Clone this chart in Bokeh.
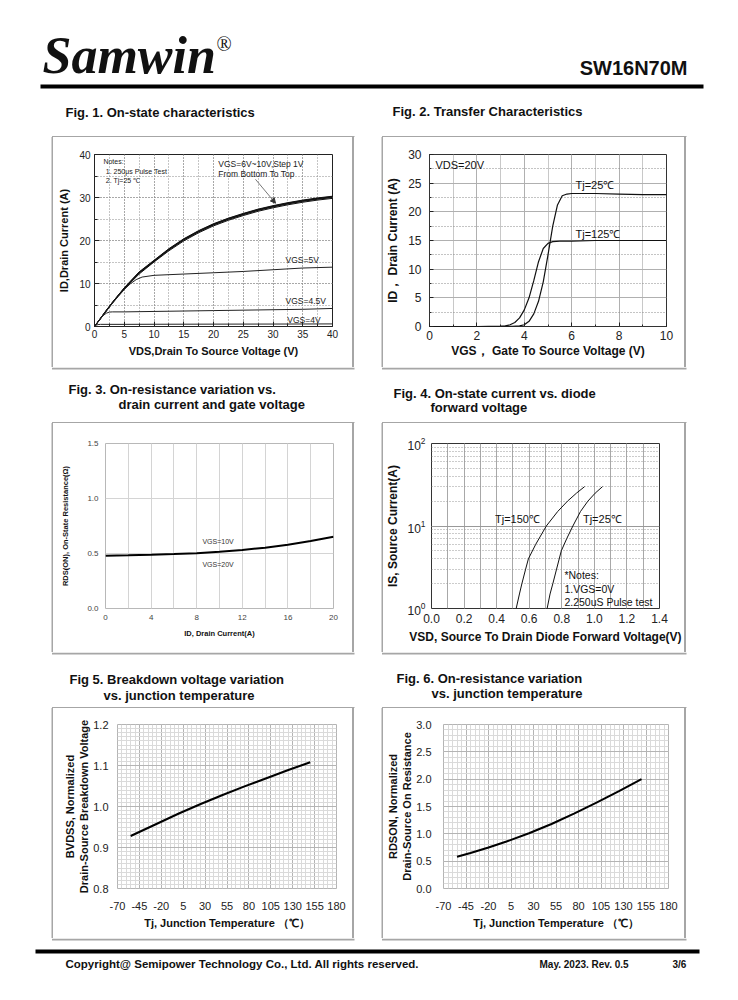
from bokeh.plotting import figure
from bokeh.layouts import column, row
from bokeh.models import (Range1d, Label, Arrow, NormalHead, FixedTicker, Spacer,
                          SingleIntervalTicker, PrintfTickFormatter, LinearScale)
from bokeh.embed import file_html
from bokeh.resources import INLINE

SANS = "Liberation Sans"
SERIF = "Liberation Serif"

# ---------------- data ----------------
# Fig 1: output characteristics
vds = [0, 1, 2, 3, 4, 5, 6, 7.5, 10, 12.5, 15, 17.5, 20, 22.5, 25, 27.5, 30, 32.5, 35, 37.5, 40]
id_6v = [0, 1.8, 3.6, 5.4, 7.1, 8.7, 10.1, 12.2, 15.0, 17.6, 19.9, 21.8, 23.4, 24.7, 25.8, 26.8, 27.6, 28.3, 28.9, 29.4, 29.8]
id_7v = [0, 1.8, 3.7, 5.5, 7.2, 8.8, 10.2, 12.4, 15.1, 17.8, 20.1, 22.0, 23.6, 24.9, 26.0, 27.0, 27.8, 28.5, 29.1, 29.6, 30.0]
id_8v = [0, 1.9, 3.7, 5.5, 7.2, 8.9, 10.3, 12.5, 15.2, 17.9, 20.2, 22.1, 23.7, 25.0, 26.1, 27.1, 27.9, 28.6, 29.2, 29.7, 30.1]
id_9v = [0, 1.9, 3.8, 5.6, 7.3, 8.9, 10.4, 12.6, 15.3, 18.0, 20.3, 22.2, 23.8, 25.1, 26.2, 27.2, 28.0, 28.7, 29.3, 29.8, 30.2]
id_10v = [0, 1.9, 3.8, 5.6, 7.3, 9.0, 10.5, 12.7, 15.4, 18.1, 20.4, 22.3, 23.9, 25.2, 26.3, 27.3, 28.1, 28.8, 29.4, 29.9, 30.3]
vds_5v = [0, 1, 2, 3, 4, 5, 6, 7, 8, 10, 15, 20, 25, 30, 35, 40]
id_5v = [0, 1.8, 3.6, 5.4, 7.0, 8.6, 9.9, 10.9, 11.5, 11.9, 12.2, 12.5, 12.8, 13.2, 13.6, 13.8]
vds_45v = [0, 0.5, 1, 1.5, 2, 2.5, 3, 5, 10, 15, 20, 25, 30, 35, 40]
id_45v = [0, 0.9, 1.8, 2.6, 3.1, 3.35, 3.4, 3.4, 3.5, 3.6, 3.7, 3.8, 3.9, 4.0, 4.2]
vds_4v = [0, 0.3, 0.6, 1, 5, 10, 20, 30, 40]
id_4v = [0, 0.3, 0.45, 0.5, 0.5, 0.52, 0.55, 0.57, 0.6]

# Fig 2: transfer characteristics
vgs_25 = [0, 2, 3, 3.5, 3.8, 4.0, 4.2, 4.4, 4.6, 4.8, 5.0, 5.2, 5.4, 5.6, 5.8, 6.0, 7, 8, 9, 10]
id_25 = [0, 0, 0, 0.02, 0.1, 0.3, 0.9, 2.2, 4.4, 7.8, 12.5, 17.5, 21.2, 22.8, 23.1, 23.2, 23.2, 23.1, 23.0, 23.0]
vgs_125 = [0, 2, 3, 3.2, 3.4, 3.6, 3.8, 4.0, 4.2, 4.4, 4.6, 4.8, 5.0, 5.2, 5.5, 6, 7, 8, 9, 10]
id_125 = [0, 0, 0.05, 0.1, 0.3, 0.7, 1.5, 2.9, 5.0, 8.0, 11.3, 13.6, 14.5, 14.8, 14.9, 14.9, 15.0, 15.0, 15.0, 15.0]

# Fig 3: on-resistance vs drain current
id_r = [0, 2, 4, 6, 8, 10, 12, 14, 16, 18, 20]
rds_r = [0.48, 0.483, 0.488, 0.495, 0.503, 0.515, 0.532, 0.553, 0.58, 0.613, 0.652]

# Fig 4: body diode forward characteristics
is_150 = [1, 1.5, 2, 3, 4, 6, 10, 15, 20, 25, 30]
vsd_150 = [0.52, 0.54, 0.555, 0.578, 0.595, 0.64, 0.705, 0.775, 0.835, 0.89, 0.94]
is_25 = [1, 1.5, 2, 3, 5, 7, 10, 15, 20, 25, 30]
vsd_25 = [0.71, 0.728, 0.745, 0.768, 0.797, 0.83, 0.868, 0.915, 0.96, 1.005, 1.05]
vsd_ticks = [0.0, 0.2, 0.4, 0.6, 0.8, 1.0, 1.2, 1.4]

# Fig 5: normalized breakdown voltage
tj_bv = [-55, -25, 0, 25, 50, 75, 100, 125, 150]
bv_n = [0.928, 0.958, 0.983, 1.006, 1.028, 1.049, 1.069, 1.089, 1.108]

# Fig 6: normalized on-resistance
tj_r = [-55, -40, -20, 0, 25, 50, 75, 100, 125, 150]
rds_n = [0.58, 0.65, 0.75, 0.86, 1.01, 1.18, 1.37, 1.57, 1.78, 2.0]

temp_ticks = [-70, -45, -20, 5, 30, 55, 80, 105, 130, 155, 180]

PAGE_W = 725
BOX_COLOR = "#a6a6a6"
TOP = {"z-index": "100"}


def blank(x0, x1, y0, y1, lift=False):
    f = figure(width=x1 - x0, height=y1 - y0, x_range=Range1d(x0, x1), y_range=Range1d(y1, y0),
               x_axis_location=None, y_axis_location=None, min_border=0,
               toolbar_location=None, output_backend="svg",
               styles=TOP if lift else {})
    f.grid.visible = False
    f.outline_line_color = None
    f.background_fill_color = "white"
    f.border_fill_color = "white"
    return f


def bar(f, x0, x1, y0, y1, color="black"):
    f.quad(left=[x0], right=[x1], top=[y0], bottom=[y1], fill_color=color,
           fill_alpha=1, line_color=None)


def cell(x0, y0, w, h, frame, xr, yr, y_log=False):
    fl, ft, fr, fb = frame
    p = figure(width=w, height=h, x_range=xr, y_range=yr,
               y_axis_type="log" if y_log else "linear",
               min_border_left=fl - x0, min_border_right=x0 + w - fr,
               min_border_top=ft - y0, min_border_bottom=y0 + h - fb,
               toolbar_location=None, output_backend="svg")
    p.extra_x_ranges = {"page": Range1d(fl, fr)}
    p.extra_y_ranges = {"page": Range1d(fb, ft)}
    p.extra_x_scales = {"page": LinearScale()}
    p.extra_y_scales = {"page": LinearScale()}
    p.background_fill_color = "white"
    p.border_fill_color = None
    return p


def txt(p, x, y, s, size, bold=False, align="left", color="#111", font=SANS, style=None):
    p.add_layout(Label(x=x, y=y, text=s, text_font=font, text_font_size=f"{size}px",
                       text_font_style=style or ("bold" if bold else "normal"),
                       text_align=align, text_baseline="middle", text_color=color))


def style(p, tick_px, label_px, xs=(5, 5), ys=(5, 5), ticks_in=0, minor_in=0,
          tick_color="#222"):
    for ax, (ts, ls) in [(p.xaxis[0], xs), (p.yaxis[0], ys)]:
        ax.axis_line_color = None
        ax.major_tick_in = ticks_in
        ax.major_tick_out = 0
        ax.minor_tick_in = minor_in
        ax.minor_tick_out = 0
        ax.major_tick_line_color = "#222" if ticks_in else None
        ax.minor_tick_line_color = "#222" if minor_in else None
        ax.major_label_text_font = SANS
        ax.major_label_text_font_size = f"{tick_px}px"
        ax.major_label_text_color = tick_color
        ax.major_label_standoff = ts
        ax.axis_label_text_font = SANS
        ax.axis_label_text_font_style = "bold"
        ax.axis_label_text_font_size = f"{label_px}px"
        ax.axis_label_text_color = "#111"
        ax.axis_label_standoff = ls


# chart boxes (page px): left column x 53..352, right column x 383..684
LX, LW, RX, RW = 53, 299, 383, 301
L0, L1, R0, R1 = LX - 1.5, LX + LW + 2, RX - 1.5, RX + RW + 2


def hbar(f, y0, t=1.5):
    bar(f, L0, L1, y0, y0 + t, color=BOX_COLOR)
    bar(f, R0, R1, y0, y0 + t, color=BOX_COLOR)


# ---------------- header band (0..137) ----------------
hdr = blank(0, PAGE_W, 0, 137)
txt(hdr, 42, 55, "Samwin", 52, font=SERIF, style="bold italic")
txt(hdr, 216, 43, "®", 20, font=SERIF)
txt(hdr, 687, 67, "SW16N70M", 20, bold=True, align="right")
bar(hdr, 40, 703, 84, 88)
txt(hdr, 65, 112, "Fig. 1. On-state characteristics", 13, bold=True)
txt(hdr, 392, 111, "Fig. 2. Transfer Characteristics", 13, bold=True)
hbar(hdr, 135.5)

# ---------------- Fig 1 ----------------
p1 = cell(LX, 137, LW, 230, (94, 153, 332, 326), Range1d(0, 40), Range1d(0, 40))
p1.xaxis.ticker = SingleIntervalTicker(interval=5, num_minor_ticks=2)
p1.yaxis.ticker = SingleIntervalTicker(interval=10, num_minor_ticks=2)
for g in (p1.xgrid, p1.ygrid):
    g.grid_line_color = "#8a8a8a"
    g.grid_line_dash = "1 2"
    g.minor_grid_line_color = "#8a8a8a"
    g.minor_grid_line_dash = "1 2"
p1.outline_line_color = "#222"
style(p1, 10, 11, xs=(3, 4), ys=(4, 6), ticks_in=5, minor_in=3)
p1.xaxis.axis_label = "VDS,Drain To Source Voltage (V)"
p1.yaxis.axis_label = "ID,Drain Current (A)"
for ys_ in (id_6v, id_7v, id_8v, id_9v, id_10v):
    p1.line(vds, ys_, line_color="#111", line_width=1)
p1.line(vds_5v, id_5v, line_color="#222", line_width=1)
p1.line(vds_45v, id_45v, line_color="#222", line_width=1)
p1.line(vds_4v, id_4v, line_color="#222", line_width=1)
txt(p1, 20.8, 37.9, "VGS=6V~10V,Step 1V", 8.5, color="#222")
txt(p1, 20.8, 35.4, "From Bottom To Top", 8.5, color="#222")
txt(p1, 1.5, 38.4, "Notes:", 7, color="#222")
txt(p1, 1.9, 36.1, "1. 250μs  Pulse Test", 7, color="#222")
txt(p1, 1.9, 33.9, "2. Tj=25 ℃", 7, color="#222")
txt(p1, 32.1, 15.5, "VGS=5V", 8.5, color="#222")
txt(p1, 32.1, 6.0, "VGS=4.5V", 8.5, color="#222")
txt(p1, 32.4, 1.6, "VGS=4V", 8.5, color="#222")
p1.add_layout(Arrow(end=NormalHead(size=5, fill_color="#333", line_color="#333"),
                    x_start=255, y_start=178, x_end=275, y_end=202,
                    x_range_name="page", y_range_name="page",
                    line_color="#555", line_width=0.8))

# ---------------- Fig 2 ----------------
p2 = cell(RX, 137, RW, 230, (429, 154, 666, 326), Range1d(0, 10), Range1d(0, 30))
p2.xaxis.ticker = SingleIntervalTicker(interval=2, num_minor_ticks=2)
p2.yaxis.ticker = SingleIntervalTicker(interval=5, num_minor_ticks=2)
p2.xgrid.grid_line_color = "#b0b0b0"
p2.xgrid.minor_grid_line_color = "#c8c8c8"
p2.ygrid.grid_line_color = "#b0b0b0"
p2.ygrid.minor_grid_line_color = "#888"
p2.ygrid.minor_grid_line_dash = "1 2"
p2.outline_line_color = "#333"
style(p2, 12, 12, xs=(4, 1), ys=(8, 5), ticks_in=4, minor_in=2)
p2.xaxis.axis_label = "VGS， Gate To Source Voltage (V)"
p2.yaxis.axis_label = "ID， Drain Current (A)"
p2.line(vgs_25, id_25, line_color="#111", line_width=1.2)
p2.line(vgs_125, id_125, line_color="#111", line_width=1.2)
txt(p2, 0.25, 28.1, "VDS=20V", 11)
txt(p2, 6.16, 24.6, "Tj=25℃", 11)
txt(p2, 6.16, 16.2, "Tj=125℃", 11)

# ---------------- band B (367..423) ----------------
bandB = blank(0, PAGE_W, 367, 423, lift=True)
hbar(bandB, 367, 2)
txt(bandB, 68, 389, "Fig. 3. On-resistance variation vs.", 13, bold=True)
txt(bandB, 118, 404, "drain current and gate voltage", 13, bold=True)
txt(bandB, 393, 393, "Fig. 4. On-state current vs. diode", 13, bold=True)
txt(bandB, 430, 407, "forward voltage", 13, bold=True)
hbar(bandB, 421.5)

# ---------------- Fig 3 ----------------
p3 = cell(LX, 423, LW, 229, (105, 443, 333, 611), Range1d(0, 20), Range1d(0, 1.5))
p3.xaxis.ticker = SingleIntervalTicker(interval=4, num_minor_ticks=2)
p3.yaxis.ticker = SingleIntervalTicker(interval=0.5)
p3.yaxis.formatter = PrintfTickFormatter(format="%.1f")
p3.xgrid.grid_line_color = "#d4d4d4"
p3.xgrid.minor_grid_line_color = "#d4d4d4"
p3.ygrid.grid_line_color = "#d4d4d4"
p3.outline_line_color = "#b8b8b8"
style(p3, 8, 7.5, xs=(6, 6), ys=(7, 14), tick_color="#444")
p3.xaxis.axis_label = "ID, Drain Current(A)"
p3.yaxis.axis_label = "RDS(ON), On-State Resistance(Ω)"
p3.line(id_r, rds_r, line_color="#000", line_width=2)
txt(p3, 8.5, 0.607, "VGS=10V", 7, color="#333")
txt(p3, 8.5, 0.402, "VGS=20V", 7, color="#333")

# ---------------- Fig 4 ----------------
p4 = cell(RX, 423, RW, 229, (429, 439, 659, 608), Range1d(0, 1.4), Range1d(1, 100), y_log=True)
p4.xaxis.ticker = FixedTicker(ticks=vsd_ticks,
                              minor_ticks=[round(0.1 * k, 1) for k in range(15)])
p4.xaxis.formatter = PrintfTickFormatter(format="%.1f")
p4.xgrid.grid_line_color = "#a8a8a8"
p4.xgrid.minor_grid_line_color = "#a8a8a8"
p4.ygrid.grid_line_color = "#999"
p4.ygrid.minor_grid_line_color = "#999"
p4.ygrid.minor_grid_line_dash = "1 2"
p4.outline_line_color = "#333"
style(p4, 12, 12, xs=(5, 4), ys=(6, 4))
p4.xaxis.axis_label = "VSD, Source To Drain Diode Forward Voltage(V)"
p4.yaxis.axis_label = "IS, Source Current(A)"
p4.line(vsd_150, is_150, line_color="#111", line_width=1)
p4.line(vsd_25, is_25, line_color="#111", line_width=1)
txt(p4, 0.39, 12.3, "Tj=150℃", 11)
txt(p4, 0.93, 12.3, "Tj=25℃", 11)
txt(p4, 0.816, 2.53, "*Notes:", 10.5)
txt(p4, 0.816, 1.72, "1.VGS=0V", 10.5)
txt(p4, 0.816, 1.21, "2.250uS Pulse test", 10.5)

# ---------------- band C (652..708) ----------------
bandC = blank(0, PAGE_W, 652, 708, lift=True)
hbar(bandC, 652, 2)
txt(bandC, 69, 679, "Fig 5. Breakdown voltage variation", 13, bold=True)
txt(bandC, 103, 695, "vs. junction temperature", 13, bold=True)
txt(bandC, 396, 678, "Fig. 6. On-resistance variation", 13, bold=True)
txt(bandC, 431, 693, "vs. junction temperature", 13, bold=True)
hbar(bandC, 706.5)

# ---------------- Fig 5 ----------------
p5 = cell(LX, 708, LW, 230, (117, 724, 336, 888), Range1d(-70, 180), Range1d(0.8, 1.2))
p5.xaxis.ticker = FixedTicker(ticks=temp_ticks, minor_ticks=list(range(-70, 181, 5)))
p5.xaxis.formatter = PrintfTickFormatter(format="%d")
p5.yaxis.ticker = FixedTicker(ticks=[0.8, 0.9, 1.0, 1.1, 1.2],
                              minor_ticks=[round(0.8 + 0.01 * k, 2) for k in range(41)])
p5.yaxis.formatter = PrintfTickFormatter(format="%.1f")
for g in (p5.xgrid, p5.ygrid):
    g.grid_line_color = "#b4b4b4"
    g.minor_grid_line_color = "#dadada"
p5.outline_line_color = "#b4b4b4"
style(p5, 11, 11, xs=(13, 4), ys=(9, 0))
p5.xaxis.axis_label = "Tj, Junction Temperature （℃）"
p5.yaxis.axis_label = "BVDSS, Normalized\nDrain-Source Breakdown Voltage"
p5.line(tj_bv, bv_n, line_color="#000", line_width=2)

# ---------------- Fig 6 ----------------
p6 = cell(RX, 708, RW, 230, (442, 721, 668, 889), Range1d(-70, 180), Range1d(0, 3))
p6.xaxis.ticker = FixedTicker(ticks=temp_ticks, minor_ticks=list(range(-70, 181, 5)))
p6.xaxis.formatter = PrintfTickFormatter(format="%d")
p6.yaxis.ticker = FixedTicker(ticks=[0, 0.5, 1.0, 1.5, 2.0, 2.5, 3.0],
                              minor_ticks=[round(0.1 * k, 1) for k in range(31)])
p6.yaxis.formatter = PrintfTickFormatter(format="%.1f")
for g in (p6.xgrid, p6.ygrid):
    g.grid_line_color = "#b4b4b4"
    g.minor_grid_line_color = "#dadada"
p6.outline_line_color = "#b4b4b4"
style(p6, 11, 11, xs=(13, 4), ys=(12, 0))
p6.xaxis.axis_label = "Tj, Junction Temperature （℃）"
p6.yaxis.axis_label = "RDSON, Normalized\nDrain-Source On Resistance"
p6.line(tj_r, rds_n, line_color="#000", line_width=2)

# ---------------- footer band (938..990) ----------------
ftr = blank(0, PAGE_W, 938, 990, lift=True)
hbar(ftr, 938, 2)
bar(ftr, 35, 699, 949, 953)
txt(ftr, 65, 963, "Copyright@ Semipower Technology Co., Ltd. All rights reserved.", 11.5, bold=True)
txt(ftr, 539, 964, "May. 2023. Rev. 0.5", 10, bold=True)
txt(ftr, 672, 964, "3/6", 10, bold=True)

EDGE_R = f"inset -1.5px 0 0 0 {BOX_COLOR}"
EDGE_L = f"inset 2px 0 0 0 {BOX_COLOR}"


def grid_row(pl, pr, h):
    s_left = Spacer(width=LX, height=h, styles={"box-shadow": EDGE_R, "z-index": "100"})
    s_mid = Spacer(width=RX - LX - LW, height=h,
                   styles={"box-shadow": f"{EDGE_L}, {EDGE_R}", "z-index": "100"})
    s_right = Spacer(width=PAGE_W - RX - RW, height=h,
                     styles={"box-shadow": EDGE_L, "z-index": "100"})
    return row(s_left, pl, s_mid, pr, s_right)


layout = column(
    hdr,
    grid_row(p1, p2, 230),
    bandB,
    grid_row(p3, p4, 229),
    bandC,
    grid_row(p5, p6, 230),
    ftr,
)
open("out.html", "w").write(file_html(layout, INLINE))
